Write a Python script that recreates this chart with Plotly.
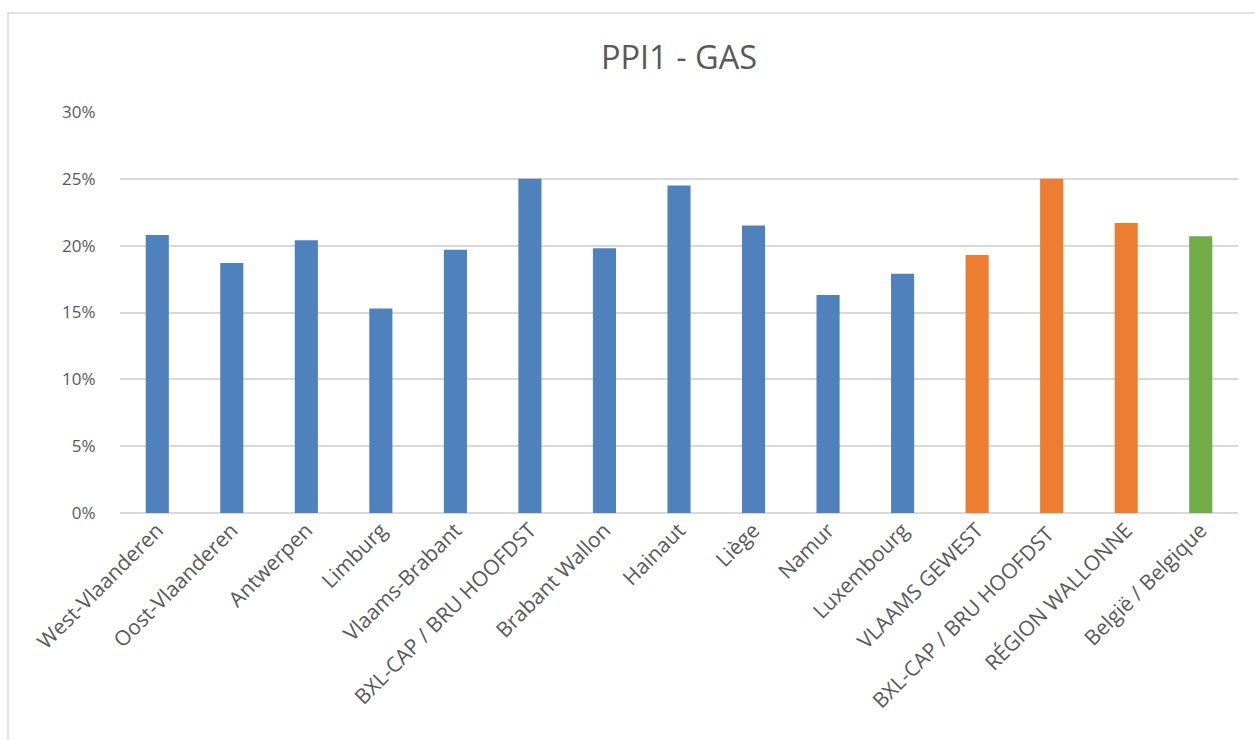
import plotly.graph_objects as go

categories = ["West-Vlaanderen", "Oost-Vlaanderen", "Antwerpen", "Limburg", "Vlaams-Brabant",
              "BXL-CAP / BRU HOOFDST", "Brabant Wallon", "Hainaut", "Liège", "Namur",
              "Luxembourg", "VLAAMS GEWEST", "BXL-CAP / BRU HOOFDST ", "RÉGION WALLONNE",
              "België / Belgique"]
values = [0.208, 0.187, 0.204, 0.153, 0.197, 0.250, 0.198, 0.245, 0.215, 0.163,
          0.179, 0.193, 0.250, 0.217, 0.207]
level = ["prov"] * 11 + ["region"] * 3 + ["country"]
tick_vals = [0, 0.05, 0.10, 0.15, 0.20, 0.25, 0.30]
tick_text = ["0%", "5%", "10%", "15%", "20%", "25%", "30%"]

palette = {"prov": "#4F81BD", "region": "#ED7D31", "country": "#70AD47"}
colors = [palette[l] for l in level]

W, H = 1255, 740
L, R, T, B = 120, 1238, 112, 513

fig = go.Figure(go.Bar(x=categories, y=values, marker=dict(color=colors, line=dict(width=0))))

font_family = "Open Sans, sans-serif"
fig.update_layout(
    width=W, height=H,
    margin=dict(l=L, r=W - R, t=T, b=H - B, autoexpand=False),
    paper_bgcolor="white", plot_bgcolor="white",
    bargap=0.69,
    showlegend=False,
    title=dict(text="PPI1 - GAS", x=0.5 * (L + R) / W, xanchor="center", y=1 - 58 / H, yanchor="middle",
               font=dict(family=font_family, size=32.5, color="#595959")),
    font=dict(family=font_family, color="#595959"),
)
fig.update_xaxes(tickangle=-45, tickfont=dict(size=21, color="#595959"), showline=False,
                 ticks="", showgrid=False)
fig.update_yaxes(range=[0, 0.30], tickvals=tick_vals, ticktext=tick_text,
                 tickfont=dict(size=17, color="#595959"), showgrid=True, gridcolor="#D9D9D9",
                 gridwidth=1.5, zeroline=True, zerolinecolor="#D9D9D9", zerolinewidth=1.5,
                 showline=False, ticks="outside", ticklen=20, tickcolor="white")

pw, ph = R - L, B - T
fig.add_shape(type="rect", xref="paper", yref="paper",
              x0=(8 - L) / pw, x1=(W + 5 - L) / pw,
              y0=(B - (H + 5)) / ph, y1=(B - 13) / ph,
              line=dict(color="#D9D9D9", width=1.5), fillcolor="rgba(0,0,0,0)", layer="below")

fig.write_html("out.html", config={"displayModeBar": False},
               post_script="document.body.style.margin='0';")
